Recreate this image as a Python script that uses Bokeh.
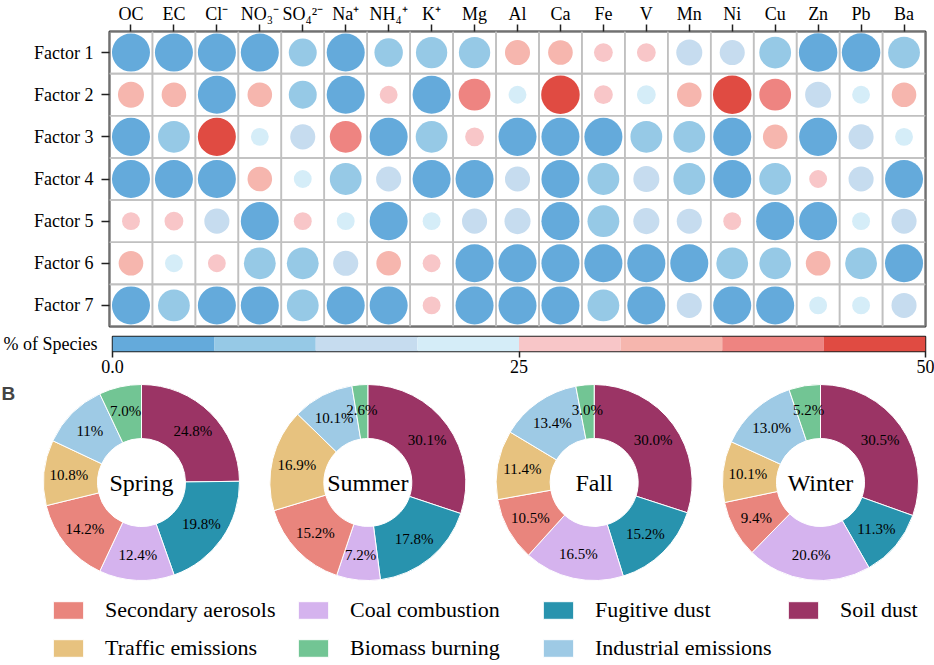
import numpy as np
from bokeh.plotting import figure
from bokeh.models import (ColumnDataSource, FactorRange, Range1d, Label, Legend, LegendItem,
                          FixedTicker)
from bokeh.core.properties import value
from bokeh.embed import file_html
from bokeh.resources import INLINE

# ---------------- data ----------------
species = ["OC", "EC", "Cl\u207b", "NO\u2083\u207b", "SO\u2084\u00b2\u207b", "Na\u207a", "NH\u2084\u207a", "K\u207a",
           "Mg", "Al", "Ca", "Fe", "V", "Mn", "Ni", "Cu", "Zn", "Pb", "Ba"]
factors = ["Factor 1", "Factor 2", "Factor 3", "Factor 4", "Factor 5", "Factor 6", "Factor 7"]

factor1 = [1, 1, 1, 1, 11.5, 1, 11, 8, 8, 35.5, 35, 29, 29, 13.5, 14.5, 7.5, 0.5, 0.5, 7.5]
factor2 = [36.5, 35, 1, 35, 11.5, 1, 28, 1, 42.5, 22, 49.5, 29, 21, 35, 49.5, 42.5, 13.5, 22, 35]
factor3 = [1, 7.5, 49, 22, 14.5, 42.5, 1, 7.5, 29, 1, 1, 1, 7.5, 7.5, 1, 35, 1, 14.5, 22]
factor4 = [1, 1, 1, 35, 22, 7.5, 14.5, 1, 1, 14.5, 1, 7.5, 13.5, 7.5, 1, 7.5, 28, 14.5, 1]
factor5 = [28, 29, 14.5, 1, 28, 22, 1, 22, 14.5, 13.5, 1, 7.5, 13.5, 14.5, 28, 1, 1, 22, 14.5]
factor6 = [35, 22, 28, 7.5, 7.5, 14.5, 35, 28, 1, 1, 1, 1, 1, 1, 7.5, 7.5, 35, 7.5, 1]
factor7 = [1, 7.5, 1, 1, 7.5, 1, 1, 28, 1, 1, 1, 7.5, 1, 14.5, 1, 1, 22, 22, 14.5]

bin_edges = [0, 6.25, 12.5, 18.75, 25, 31.25, 37.5, 43.75, 50]
bin_colors = ["#64aadb", "#96c9e6", "#c6dcef", "#d5edf8", "#f8c6c8", "#f6b6ae", "#ee8481", "#e04b42"]
colorbar_ticks = [0, 25, 50]
colorbar_tick_labels = ["0.0", "25", "50"]

seasons = ["Spring", "Summer", "Fall", "Winter"]
sources = ["Soil dust", "Fugitive dust", "Coal combustion", "Secondary aerosols",
           "Traffic emissions", "Industrial emissions", "Biomass burning"]
source_colors = ["#9b3465", "#2893ae", "#d5b3ee", "#e9857d", "#e7c27f", "#9ecae5", "#72c594"]
spring = [24.8, 19.8, 12.4, 14.2, 10.8, 11.0, 7.0]
summer = [30.1, 17.8, 7.2, 15.2, 16.9, 10.1, 2.6]
fall = [30.0, 15.2, 16.5, 10.5, 11.4, 13.4, 3.0]
winter = [30.5, 11.3, 20.6, 9.4, 10.1, 13.0, 5.2]
spring_labels = ["24.8%", "19.8%", "12.4%", "14.2%", "10.8%", "11%", "7.0%"]
summer_labels = ["30.1%", "17.8%", "7.2%", "15.2%", "16.9%", "10.1%", "2.6%"]
fall_labels = ["30.0%", "15.2%", "16.5%", "10.5%", "11.4%", "13.4%", "3.0%"]
winter_labels = ["30.5%", "11.3%", "20.6%", "9.4%", "10.1%", "13.0%", "5.2%"]
legend_order = ["Secondary aerosols", "Coal combustion", "Fugitive dust", "Soil dust",
                "Traffic emissions", "Biomass burning", "Industrial emissions"]

SERIF = "Liberation Serif"
W = 934

# ---------------- panel A: bubble matrix ----------------
rows = [factor1, factor2, factor3, factor4, factor5, factor6, factor7]
xs, ys, vals = [], [], []
for f, r in zip(factors, rows):
    for s, v in zip(species, r):
        xs.append(s); ys.append(f); vals.append(v)
vals = np.array(vals, dtype=float)
sizes = 15 + 24 * np.abs(vals - 25) / 25
cols = [bin_colors[min(int(v // 6.25), 7)] for v in vals]
src = ColumnDataSource(dict(sp=xs, fa=ys, v=vals, size=sizes, color=cols))

p1 = figure(width=W, height=331, x_range=FactorRange(*species), y_range=FactorRange(*factors[::-1]),
            x_axis_location="above", toolbar_location=None, output_backend="svg",
            min_border_left=109, min_border_right=9, min_border_top=30, min_border_bottom=5)
p1.rect(x="sp", y="fa", width=1, height=1, fill_color=None, line_color="#c0c0c0", line_width=1.6, source=src)
p1.scatter(x="sp", y="fa", size="size", fill_color="color", line_color=None, source=src)
p1.grid.visible = False
p1.outline_line_color = "#222222"
p1.outline_line_width = 2
p1.background_fill_color = "white"
p1.border_fill_color = "white"
for ax in p1.axis:
    ax.axis_line_color = None
    ax.major_tick_in = 0
    ax.major_tick_out = 7
    ax.major_tick_line_color = "#222222"
    ax.major_tick_line_width = 1.5
    ax.major_label_text_font = SERIF
    ax.major_label_text_font_size = "18px"
    ax.major_label_text_color = "black"
    ax.major_label_standoff = 1
p1.yaxis.major_tick_out = 8
p1.yaxis.major_label_standoff = 8
p1.add_layout(Label(x=-2.44, y=7.54, text="A", text_font="Liberation Sans", text_font_style="bold",
                    text_font_size="19px", text_baseline="top", text_align="left"))

# ---------------- colour bar ----------------
cb_label = "% of Species"
p2 = figure(width=W, height=51, x_range=Range1d(0, 50), y_range=FactorRange(cb_label),
            toolbar_location=None, output_backend="svg",
            min_border_left=109, min_border_right=9, min_border_top=5, min_border_bottom=31)
p2.hbar(y=[cb_label] * 8, left=bin_edges[:-1], right=bin_edges[1:], height=1, fill_color=bin_colors,
        line_color=None)
p2.grid.visible = False
p2.outline_line_color = "#222222"
p2.outline_line_width = 1.5
p2.xaxis.ticker = FixedTicker(ticks=colorbar_ticks)
p2.xaxis.major_label_overrides = {t: l for t, l in zip(colorbar_ticks, colorbar_tick_labels)}
p2.xaxis.axis_line_color = None
p2.xaxis.minor_tick_line_color = None
p2.xaxis.major_tick_in = 0
p2.xaxis.major_tick_out = 6
p2.xaxis.major_tick_line_color = "#222222"
p2.xaxis.major_tick_line_width = 1.5
p2.xaxis.major_label_standoff = 2
p2.yaxis.axis_line_color = None
p2.yaxis.major_tick_line_color = None
p2.yaxis.major_label_standoff = 9
for ax in p2.axis:
    ax.major_label_text_font = SERIF
    ax.major_label_text_font_size = "18px"
    ax.major_label_text_color = "black"

# ---------------- panel B: donuts ----------------
P3_TOP, P3_H = 382, 282
CY = 482
px_per_unit = (820 - 141) / 3.0
x_start = -141 / px_per_unit
p3 = figure(width=W, height=P3_H, x_range=Range1d(x_start, x_start + W / px_per_unit),
            y_range=Range1d(-(P3_TOP + P3_H - CY), CY - P3_TOP), toolbar_location=None, output_backend="svg",
            x_axis_type=None, y_axis_type=None, min_border=0)
p3.grid.visible = False
p3.outline_line_color = None

R_IN, R_OUT, R_LAB = 44, 98, 73
first_renderer = None
for i, (vals_s, labs) in enumerate(zip([spring, summer, fall, winter],
                                       [spring_labels, summer_labels, fall_labels, winter_labels])):
    v = np.array(vals_s, dtype=float)
    frac = v / v.sum()
    c1 = np.cumsum(frac)
    c0 = c1 - frac
    mid = (c0 + c1) / 2
    d = ColumnDataSource(dict(
        x=[i] * len(v), y=[0] * len(v),
        start=np.pi / 2 - 2 * np.pi * c0, end=np.pi / 2 - 2 * np.pi * c1,
        color=source_colors, name=sources, label=labs,
        dx=R_LAB * np.sin(2 * np.pi * mid), dy=-R_LAB * np.cos(2 * np.pi * mid)))
    r = p3.annular_wedge(x="x", y="y", inner_radius=R_IN, outer_radius=R_OUT,
                         inner_radius_units="screen", outer_radius_units="screen",
                         start_angle="start", end_angle="end", direction="clock",
                         fill_color="color", line_color="white", line_width=1, source=d)
    if first_renderer is None:
        first_renderer = r
    p3.text(x="x", y="y", text="label", x_offset="dx", y_offset="dy", source=d,
            text_align="center", text_baseline="middle", text_font=value(SERIF),
            text_font_size=value("15px"), text_color="black")

p3.text(x=list(range(len(seasons))), y=[0] * len(seasons), text=seasons, text_align="center",
        text_baseline="middle", text_font=value(SERIF), text_font_size=value("24px"), text_color="black")

p3.add_layout(Label(x=x_start + 1 / px_per_unit, y=CY - P3_TOP, text="B", text_font="Liberation Sans",
                    text_font_style="bold", text_font_size="19px", text_baseline="top", text_align="left"))

items = [LegendItem(label=n, renderers=[first_renderer], index=sources.index(n)) for n in legend_order]
legend = Legend(items=items, location=(49, 3), orientation="horizontal", ncols=4,
                glyph_width=38, glyph_height=22, label_standoff=18, label_width=177, spacing=12,
                padding=0, margin=0,
                label_text_font=SERIF, label_text_font_size="22px", label_text_color="black",
                border_line_alpha=0, background_fill_alpha=0)
p3.add_layout(legend)

open("out.html", "w").write(file_html([p1, p2, p3], INLINE, title="PMF factors"))
